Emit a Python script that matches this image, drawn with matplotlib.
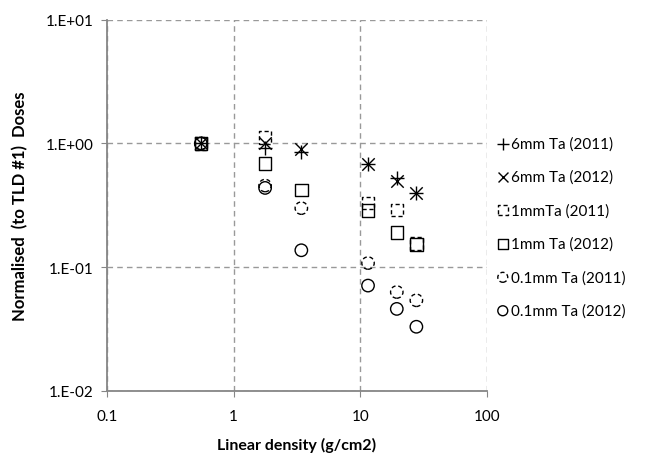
import matplotlib
matplotlib.use("Agg")
import matplotlib.pyplot as plt

# ---- data ----
x_all = [0.55, 1.77, 3.42, 11.5, 19.4, 27.7]
x_1mm11 = [0.55, 1.77, 11.5, 19.4, 27.7]

ta6_2011 = [1.0, 0.92, 0.85, 0.68, 0.53, 0.40]
ta6_2012 = [1.0, 1.0, 0.90, 0.68, 0.50, 0.40]
ta1_2011 = [1.0, 1.12, 0.33, 0.29, 0.155]
ta1_2012 = [1.0, 0.69, 0.42, 0.287, 0.19, 0.153]
ta01_2011 = [1.0, 0.457, 0.30, 0.108, 0.063, 0.054]
ta01_2012 = [1.0, 0.437, 0.137, 0.071, 0.046, 0.033]

xticks = [0.1, 1, 10, 100]
xticklabels = ["0.1", "1", "10", "100"]
yticks = [0.01, 0.1, 1, 10]
yticklabels = ["1.E-02", "1.E-01", "1.E+00", "1.E+01"]

plt.rcParams['font.family'] = ['Lato', 'DejaVu Sans']

fig = plt.figure(figsize=(6.45, 4.6), dpi=100)
ax = fig.add_axes([0.166, 0.148, 0.589, 0.807])
ax.set_xscale('log')
ax.set_yscale('log')
ax.set_xlim(0.1, 100)
ax.set_ylim(0.01, 10)

dash = (0, (3, 2))
common = dict(facecolors='none', edgecolors='black', linewidths=1.0, zorder=3)
h1 = ax.scatter(x_all, ta6_2011, marker='+', s=100, c='black', linewidths=1.0, zorder=3, label='6mm Ta (2011)')
h2 = ax.scatter(x_all, ta6_2012, marker='x', s=80, c='black', linewidths=1.0, zorder=3, label='6mm Ta (2012)')
h3 = ax.scatter(x_1mm11, ta1_2011, marker='s', s=80, linestyles=[dash], label='1mmTa (2011)', **common)
h4 = ax.scatter(x_all, ta1_2012, marker='s', s=80, label='1mm Ta (2012)', **common)
h5 = ax.scatter(x_all, ta01_2011, marker='o', s=80, linestyles=[dash], label='0.1mm Ta (2011)', **common)
h6 = ax.scatter(x_all, ta01_2012, marker='o', s=80, label='0.1mm Ta (2012)', **common)

ax.set_xticks(xticks)
ax.set_xticklabels(xticklabels)
ax.set_yticks(yticks)
ax.set_yticklabels(yticklabels)
ax.minorticks_off()
ax.tick_params(axis='both', which='major', direction='out', length=4, color='#868686',
               labelsize=11, labelcolor='black', pad=6)
ax.tick_params(axis='x', pad=9)

ax.grid(True, which='major', linestyle=(0, (4, 3)), color='#999999', linewidth=1.0)
ax.set_axisbelow(True)
for side in ['top', 'right']:
    ax.spines[side].set_visible(False)
for side in ['left', 'bottom']:
    ax.spines[side].set_color('#868686')
    ax.spines[side].set_linewidth(1.3)

ax.set_xlabel('Linear density (g/cm2)', fontsize=11.5, fontweight='bold', labelpad=10)
ax.set_ylabel('Normalised  (to TLD #1)  Doses', fontsize=12, fontweight='bold', labelpad=12)

fig.legend(handles=[h1, h2, h3, h4, h5, h6], loc='upper left',
           bbox_to_anchor=(0.757, 0.715), frameon=False, fontsize=11,
           labelspacing=1.25, handletextpad=0.0, handlelength=1.1,
           scatterpoints=1, borderaxespad=0, markerscale=0.8)

fig.savefig('out.png', dpi=100)
